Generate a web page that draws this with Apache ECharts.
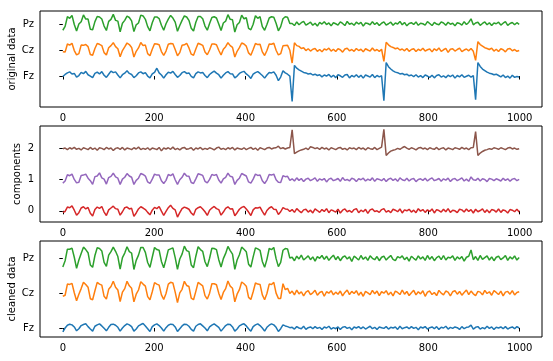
<!DOCTYPE html>
<html><head><meta charset="utf-8">
<script src="https://cdn.jsdelivr.net/npm/echarts@6/dist/echarts.min.js"></script>
<style>html,body{margin:0;padding:0;background:#fff}#c{width:553px;height:361px}</style>
</head><body><div id="c"></div>
<script>
// sample index -> time (0..999), 200 samples
const N_SAMPLES = 200, T_LAST = 999;
const X_TICKS = [0, 200, 400, 600, 800, 1000];
const CHANNELS = ['Fz', 'Cz', 'Pz'];
const COMP_TICKS = [0, 1, 2];

// ---- original data (deviation from channel baseline) ----
const origFz = [
-.02,.06,.12,.16,.08,.10,-.04,.02,.14,.09,
.18,.05,.00,-.06,.10,.15,.08,.17,.03,-.05,
.07,.19,.13,.16,.04,-.07,.05,.11,.20,.10,
.06,-.06,.01,.12,.16,.09,.13,.00,-.07,.08,
.14,.30,.12,.04,-.08,.05,.15,.11,.18,.06,
-.05,.02,.13,.17,.10,.12,-.01,-.07,.09,.16,
.12,.14,.02,-.06,.06,.13,.19,.11,.05,-.08,
.03,.12,.17,.09,.08,-.07,.00,.10,.15,.18,
.08,.01,-.09,.07,.13,.17,.10,.02,-.08,.04,
.14,.12,.16,.03,-.18,-.04,.20,.12,.07,.00,
-.98,.41,.30,.24,.19,.14,.12,.08,.10,.04,
.07,.02,.05,-.03,.04,.00,.06,-.04,.03,-.06,
.05,.01,-.05,.04,.06,-.07,.02,-.03,.05,-.05,
.03,-.08,.04,.00,-.04,.06,-.06,.02,-.03,.01,
-.95,.52,.36,.27,.20,.15,.13,.08,.10,.05,
.07,.01,.04,-.02,.05,-.04,.02,-.06,.04,.00,
-.05,.03,-.07,.02,.05,-.04,.01,-.06,.03,-.02,
.04,-.08,.02,-.03,.05,-.05,-.01,.03,-.04,.02,
-.91,.52,.37,.27,.21,.15,.11,.09,.05,.07,
.02,-.03,.04,-.06,.00,-.08,.03,-.05,-.02,-.04];
const origCz = [
-.07,-.08,.23,.19,.26,-.02,-.19,-.14,.19,.18,
.21,.13,-.17,-.20,.06,.25,.22,.17,-.10,-.19,
.09,.17,.28,.13,.05,-.26,-.02,.12,.27,.21,
.10,-.27,-.05,.08,.29,.17,.19,-.14,-.22,.03,
.24,.23,.20,-.06,-.21,-.04,.22,.25,.24,.02,
-.22,-.10,.18,.20,.26,.08,-.16,-.20,.04,.26,
.22,.18,-.08,-.18,.00,.23,.23,.20,-.01,-.19,
.03,.13,.28,.17,.10,-.27,-.05,.09,.27,.23,
.15,-.11,-.20,.02,.25,.21,.22,-.07,-.21,-.02,
.23,.22,.26,-.01,-.19,-.14,.16,.17,.18,-.01,
-.50,.28,.17,.14,.06,.09,-.02,.05,-.04,.03,
.06,-.05,.02,-.07,.04,.00,.07,-.04,.03,-.06,
.05,.01,-.08,.04,.07,-.03,.02,-.05,.06,-.02,
.03,-.07,.05,.00,-.04,.08,-.03,.02,-.05,.03,
-.44,.30,.20,.13,.10,.05,.08,.00,.04,-.03,
.06,-.05,.02,.05,-.06,.03,-.02,.07,-.04,.01,
.04,-.07,.05,-.02,.08,-.05,.01,.06,-.09,.03,
.05,-.04,.02,.07,-.06,.00,.04,-.03,.06,-.05,
-.40,.32,.21,.15,.09,.06,.02,.07,-.04,.03,
-.06,.05,.01,-.07,.04,.06,-.03,.02,-.05,-.02];
const origPz = [
-.24,-.09,.28,.22,.33,-.02,-.27,.00,.09,.35,
.19,.19,-.20,-.22,.09,.29,.27,.19,-.08,-.25,
.10,.18,.37,.14,.11,-.30,.03,.14,.30,.25,
.12,-.29,-.03,.04,.34,.31,.18,-.10,-.26,.05,
.27,.27,.21,-.05,-.24,.01,.19,.33,.23,.07,
-.28,-.06,.14,.31,.27,.14,-.16,-.27,.07,.29,
.29,.20,-.08,-.24,.02,.25,.28,.23,.00,-.25,
.04,.11,.36,.18,.16,-.31,-.03,.06,.34,.20,
.24,-.17,-.22,-.01,.32,.22,.28,-.10,-.24,-.02,
.23,.28,.26,.03,-.26,-.10,.20,.28,.26,.02,
.02,-.06,.08,-.03,.05,.10,-.04,.01,.07,-.05,
.03,-.08,.06,.00,.09,-.02,.04,-.07,.05,.01,
-.04,.08,.02,-.06,.10,-.01,.03,-.05,.07,.00,
.06,-.08,.04,.02,-.03,.09,-.02,.05,-.06,.03,
.08,-.04,.01,.07,-.05,.04,.00,.10,-.03,.06,
-.07,.02,.05,-.02,.08,-.05,.03,.01,-.04,.09,
.02,-.06,.06,.00,-.03,.08,.04,-.05,.07,-.01,
.03,-.07,.05,.02,-.04,.09,-.02,.06,.20,-.03,
.04,.07,-.05,.02,.08,-.03,.05,-.06,.04,.01,
.07,-.04,.03,.09,-.05,.02,.06,-.03,.05,-.01];

// ---- components (deviation from component baseline) ----
const comp0 = [
-.05,-.02,.12,.10,.16,.02,-.14,-.06,.09,.13,
.06,.11,-.08,-.17,.04,.12,.08,.14,-.04,-.15,
.03,.09,.15,.07,.05,-.14,-.03,.10,.12,.06,
.08,-.18,-.07,.06,.13,.09,.04,-.05,-.13,.02,
.11,.07,.14,-.01,-.15,-.02,.10,.18,.08,.03,
-.20,-.06,.07,.12,.09,.05,-.07,-.14,.05,.10,
.13,.06,-.03,-.15,.02,.09,.14,.07,.04,-.14,
-.04,.08,.13,.06,.07,-.16,-.06,.05,.11,.14,
.06,-.04,-.15,.03,.10,.09,.12,-.02,-.14,.01,
.09,.13,.05,.04,-.12,-.03,.10,.06,.05,-.02,
.04,-.05,.07,.00,-.06,.03,.05,-.04,.02,-.07,
.06,.01,-.05,.04,-.02,.07,-.06,.03,.00,-.04,
.05,-.07,.02,.06,-.03,.01,-.05,.04,.07,-.06,
.02,-.03,.05,-.08,.03,.06,-.02,.00,-.05,.04,
.07,-.04,.01,-.06,.05,.02,-.03,.06,-.07,.03,
.00,.05,-.04,.02,-.06,.07,-.01,.04,-.05,.03,
-.02,.06,-.07,.04,.01,-.04,.05,-.03,.07,-.05,
.02,.00,-.06,.05,.03,-.04,.06,-.02,.04,-.07,
.05,-.03,.01,.06,-.05,.03,-.06,.04,.02,-.04,
.06,-.05,.03,.00,-.07,.04,.02,-.03,.05,-.04];
const comp1 = [
-.11,-.04,.16,.13,.18,.01,-.10,-.08,.14,.15,
.18,.05,-.03,-.15,.10,.12,.22,.06,.02,-.14,
.07,.11,.21,.09,.05,-.15,.02,.08,.20,.12,
.08,-.15,-.02,.05,.20,.17,.12,-.07,-.12,.02,
.18,.15,.15,-.03,-.12,-.02,.17,.13,.19,.00,
-.15,.00,.08,.21,.12,.11,-.09,-.12,.03,.19,
.17,.14,-.05,-.10,.01,.17,.14,.17,-.01,-.11,
.03,.08,.21,.11,.09,-.15,-.02,.05,.20,.16,
.12,-.07,-.11,.02,.18,.14,.15,-.03,-.12,-.01,
.17,.15,.18,.00,-.08,-.09,.13,.10,.11,-.02,
.03,-.04,.06,-.02,.04,-.06,.02,.05,-.03,.01,
.06,-.05,.03,-.01,.04,-.07,.02,.05,-.03,.00,
.04,-.05,.07,-.02,.01,-.04,.05,.02,-.06,.03,
.00,.05,-.04,.02,-.02,.06,-.05,.03,.01,-.03,
.04,-.06,.02,.05,-.02,.03,-.05,.06,.00,-.03,
.05,-.04,.02,.04,-.06,.01,.03,-.02,.05,-.04,
.02,.06,-.03,.00,.04,-.05,.03,-.01,.05,-.06,
.02,.04,-.03,.01,.06,-.04,.02,-.05,.09,.00,
-.02,.05,-.04,.03,.01,-.06,.04,.02,-.03,.03,
.00,-.04,.05,-.02,.03,-.05,.02,.04,-.03,.01];
const comp2 = [
.00,.02,-.03,.03,-.01,.04,-.02,.01,-.04,.03,
.00,-.03,.04,-.02,.02,-.05,.03,.01,-.03,.04,
-.01,.02,-.06,.01,.03,-.02,.04,-.04,.02,.00,
-.03,.03,-.01,.05,-.03,.01,-.02,.03,-.04,.02,
.00,-.03,.04,-.07,.02,-.01,.03,-.02,.05,-.03,
.01,-.04,.02,.04,-.02,.00,.03,-.05,.02,-.01,
.04,-.03,.01,-.02,.03,.00,-.04,.02,.05,-.02,
.01,-.03,.03,-.01,.04,-.04,.02,.00,-.02,.03,
-.03,.01,.04,-.02,.02,-.05,.03,.00,-.03,.02,
.04,-.01,.02,.03,.08,.00,.03,-.01,.02,.04,
.61,-.16,-.11,-.07,-.04,-.02,.02,-.03,.06,.04,
.00,.03,-.02,.04,-.01,.02,-.04,.03,.00,-.03,
.02,.04,-.02,.01,-.04,.03,.00,.02,-.03,.04,
-.01,.02,-.04,.03,.00,-.02,.04,-.03,.01,.05,
.62,-.22,-.14,-.08,-.05,-.03,.01,-.02,.03,.07,
.02,-.02,.03,.00,-.04,.02,.04,-.01,.02,-.03,
.03,.00,-.02,.04,-.03,.01,.03,-.04,.02,.00,
-.03,.03,.01,-.02,.04,-.01,.02,-.03,.03,.04,
.55,-.22,-.14,-.09,-.05,-.03,.00,-.02,.03,.01,
-.02,.03,.00,-.03,.02,.04,-.01,.02,-.02,.00];

// ---- cleaned data (deviation from channel baseline) ----
const cleanFz = [
-.11,.00,.08,.11,.09,.03,-.08,-.02,.07,.10,
.12,.04,-.03,-.09,.05,.09,.12,.06,-.01,-.08,
.02,.10,.11,.08,.02,-.09,.00,.07,.12,.09,
.04,-.09,-.03,.06,.10,.13,.06,-.02,-.10,.04,
.09,.12,.07,.00,-.09,.01,.08,.11,.10,.03,
-.10,-.02,.06,.11,.10,.05,-.04,-.09,.05,.10,
.12,.06,.00,-.08,.03,.08,.12,.07,.02,-.09,
-.01,.07,.11,.10,.03,-.09,-.03,.06,.10,.12,
.06,-.02,-.09,.04,.09,.12,.07,.00,-.09,.02,
.08,.12,.09,.02,-.10,-.02,.09,.06,.04,.01,
.02,-.03,.04,.00,-.02,.05,-.04,.01,.03,-.02,
.04,-.01,.02,-.04,.03,.00,.05,-.03,.01,-.02,
.03,-.04,.02,.04,-.01,.02,-.05,.03,.00,.04,
-.02,.03,-.03,.01,.05,-.02,.02,-.04,.03,.01,
-.01,.04,-.03,.02,.00,.03,-.04,.05,-.02,.01,
.03,-.02,.04,-.01,.02,-.05,.03,.00,.04,-.03,
.01,.03,-.02,.04,-.04,.02,.00,.05,-.03,.02,
-.01,.03,.01,-.04,.04,-.02,.02,.03,.08,-.03,
.02,.04,-.03,.01,-.02,.05,-.01,.03,-.04,.02,
.00,.03,-.02,.04,-.03,.01,.03,-.02,.04,.00];
const cleanCz = [
-.09,-.06,.26,.25,.28,.01,-.22,-.03,.13,.31,
.25,.17,-.16,-.19,.07,.31,.26,.23,-.09,-.17,
.11,.19,.34,.17,.09,-.24,.03,.13,.34,.21,
.14,-.25,-.03,.09,.33,.26,.20,-.10,-.19,.04,
.30,.26,.23,-.05,-.18,-.01,.26,.31,.29,.03,
-.27,.01,.11,.34,.22,.19,-.14,-.19,.05,.31,
.26,.21,-.07,-.17,.00,.27,.27,.24,.00,-.18,
.02,.13,.35,.20,.14,-.25,-.03,.10,.32,.27,
.20,-.12,-.18,.04,.29,.26,.25,-.05,-.19,-.01,
.26,.25,.31,.00,-.15,-.15,.27,.10,.14,-.01,
.06,-.05,.09,-.02,.04,-.08,.03,.07,-.04,.01,
.08,-.06,.02,.05,-.09,.04,.00,.07,-.05,.03,
-.03,.06,-.08,.02,.09,-.04,.05,-.01,.07,-.06,
.03,-.09,.05,.01,-.04,.08,-.02,.06,-.07,.04,
.00,.07,-.05,.03,-.08,.06,.02,-.04,.09,-.03,
.05,-.07,.01,.08,-.05,.04,-.02,.07,-.09,.03,
.06,-.04,.02,-.07,.08,.00,-.05,.06,.03,-.08,
.04,.07,-.03,.05,-.06,.02,.09,-.04,.06,-.02,
-.07,.05,.03,-.05,.08,-.01,.04,-.06,.07,.02,
-.04,.06,-.08,.03,.05,-.03,.07,-.05,.02,.04];
const cleanPz = [
-.25,-.07,.26,.26,.29,.03,-.29,-.05,.14,.32,
.25,.16,-.19,-.26,.08,.30,.28,.21,-.12,-.23,
.09,.19,.32,.20,.05,-.31,.02,.15,.33,.19,
.15,-.32,-.06,.09,.31,.31,.17,-.12,-.26,.03,
.31,.25,.23,-.09,-.27,-.03,.24,.27,.30,.02,
-.32,-.02,.12,.35,.22,.19,-.19,-.27,.06,.33,
.25,.20,-.10,-.24,.00,.29,.28,.25,-.04,-.25,
-.01,.14,.34,.22,.12,-.32,-.05,.10,.32,.26,
.19,-.17,-.25,.04,.30,.27,.23,-.09,-.26,-.03,
.28,.25,.31,-.01,-.24,-.12,.23,.28,.27,.01,
.03,-.07,.06,-.02,.09,-.05,.01,.07,-.04,.04,
-.08,.05,.00,.08,-.03,.06,-.06,.02,.09,-.04,
.05,-.07,.03,.07,-.02,.04,-.09,.06,.01,-.05,
.08,-.03,.04,-.06,.07,.00,-.04,.05,-.07,.03,
.06,-.05,.02,.08,-.03,-.07,.05,.01,.07,-.04,
.03,-.08,.06,.00,-.05,.07,-.02,.04,-.06,.08,
-.03,.05,-.07,.02,.06,-.04,.08,-.05,.03,.01,
.07,-.06,.04,-.02,.05,-.08,.03,.06,.24,-.04,
.05,-.06,.08,-.03,.02,.07,-.05,.04,-.07,.03,
.06,-.04,.01,.08,-.06,.04,-.02,.07,-.05,.02];

// ---- layout / styles ----
const COLORS = {blue:'#1f77b4', orange:'#ff7f0e', green:'#2ca02c', red:'#d62728', purple:'#9467bd', brown:'#8c564b'};
const FONT = 'DejaVu Sans';
const xAt = i => i * T_LAST / (N_SAMPLES - 1);

function lineSeries(vals, offset, idx, color) {
  return {
    type: 'line', xAxisIndex: idx, yAxisIndex: idx,
    data: vals.map((v, i) => [xAt(i), v + offset]),
    showSymbol: false, symbol: 'none', silent: true, animation: false,
    lineStyle: { width: 1.5, color: color }, itemStyle: { color: color }
  };
}

const grids = [11, 126, 241].map(t => ({
  left: 40, right: 11, top: t, height: 96, show: true,
  outerBoundsMode: 'none', containLabel: false,
  borderColor: '#000', borderWidth: 1, backgroundColor: 'transparent'
}));

const xAxes = [0, 1, 2].map(g => ({
  type: 'value', gridIndex: g, min: -49.95, max: 1048.95,
  axisLine: { show: false }, splitLine: { show: false },
  axisTick: { show: true, length: 3.5, customValues: X_TICKS, lineStyle: { color: '#000', width: 1 } },
  axisLabel: { customValues: X_TICKS, fontSize: 10, color: '#000', fontFamily: FONT, margin: 6,
    formatter: v => String(v) }
}));

function yAxis(g, min, max, ticks, labels, name, gap) {
  return {
    type: 'value', gridIndex: g, min: min, max: max,
    axisLine: { show: false }, splitLine: { show: false },
    axisTick: { show: true, length: 3.5, customValues: ticks, lineStyle: { color: '#000', width: 1 } },
    axisLabel: { customValues: ticks, fontSize: 10, color: '#000', fontFamily: FONT, margin: 6,
      formatter: v => { const k = ticks.indexOf(v); return k >= 0 ? labels[k] : ''; } },
    name: name, nameLocation: 'middle', nameGap: gap, nameMoveOverlap: false,
    nameTextStyle: { fontSize: 10, color: '#000', fontFamily: FONT }
  };
}

const option = {
  animation: false,
  backgroundColor: '#fff',
  grid: grids,
  xAxis: xAxes,
  yAxis: [
    yAxis(0, -1.19, 2.5, [0, 1, 2], CHANNELS, 'original data', 23),
    yAxis(1, -0.36, 2.73, COMP_TICKS, COMP_TICKS.map(String), 'components', 18),
    yAxis(2, -0.258, 2.496, [0, 1, 2], CHANNELS, 'cleaned data', 23)
  ],
  series: [
    lineSeries(origFz, 0, 0, COLORS.blue),
    lineSeries(origCz, 1, 0, COLORS.orange),
    lineSeries(origPz, 2, 0, COLORS.green),
    lineSeries(comp0, 0, 1, COLORS.red),
    lineSeries(comp1, 1, 1, COLORS.purple),
    lineSeries(comp2, 2, 1, COLORS.brown),
    lineSeries(cleanFz, 0, 2, COLORS.blue),
    lineSeries(cleanCz, 1, 2, COLORS.orange),
    lineSeries(cleanPz, 2, 2, COLORS.green)
  ]
};

const chart = echarts.init(document.getElementById('c'), null, { renderer: 'canvas' });
chart.setOption(option);
</script>
</body></html>
